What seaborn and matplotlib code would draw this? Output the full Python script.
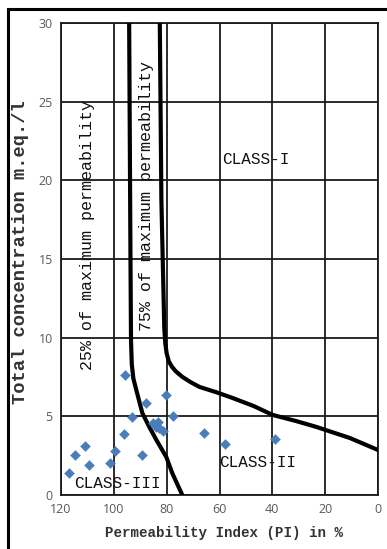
import matplotlib
matplotlib.use("Agg")
import matplotlib.pyplot as plt
import seaborn as sns
import pandas as pd
from matplotlib.patches import Rectangle

# Sample points (Permeability Index %, Total concentration meq/l)
pi_values = [95.7, 80.3, 87.9, 93.3, 77.7, 85.3, 83.1, 82.8, 84.0, 81.5,
             96.3, 66.0, 58.0, 39.1, 110.9, 99.5, 114.8, 89.5, 109.4, 101.4, 117.0]
conc_values = [7.63, 6.36, 5.87, 4.94, 5.02, 4.56, 4.66, 4.24, 4.34, 4.09,
               3.86, 3.92, 3.24, 3.58, 3.12, 2.80, 2.52, 2.52, 1.91, 2.06, 1.38]

# 25% of maximum permeability boundary
curve25_pi = [94.2, 93.7, 93.5, 93.2, 92.6, 91.5, 89.2, 86.5, 83.9, 80.1, 77.9, 74.1]
curve25_c = [30.0, 15.0, 9.85, 8.3, 7.4, 6.68, 5.2, 4.3, 3.5, 2.4, 1.4, 0.0]

# 75% of maximum permeability boundary
curve75_pi = [82.6, 82.0, 80.9, 80.5, 80.0, 79.2, 78.0, 76.5, 74.0, 71.0, 67.6, 61.0,
              55.1, 47.0, 39.9, 31.0, 23.2, 10.6, 0.0]
curve75_c = [30.0, 18.75, 10.6, 9.6, 9.0, 8.5, 8.15, 7.85, 7.5, 7.18, 6.87, 6.52,
             6.17, 5.65, 5.09, 4.7, 4.32, 3.62, 2.86]

x_ticks = [120, 100, 80, 60, 40, 20, 0]
y_ticks = [0, 5, 10, 15, 20, 25, 30]

sns.set_theme(style="white")
plt.rcParams['font.family'] = ['DejaVu Sans']

fig = plt.figure(figsize=(3.87, 5.49), dpi=100)
ax = fig.add_axes([61/387, 1-495/549, (378-61)/387, (495-23)/549])

pts = pd.DataFrame({"PI": pi_values, "C": conc_values})
c25 = pd.DataFrame({"PI": curve25_pi, "C": curve25_c})
c75 = pd.DataFrame({"PI": curve75_pi, "C": curve75_c})

for xv in x_ticks:
    ax.axvline(xv, color="#1a1a1a", lw=1.3, zorder=1)
for yv in y_ticks:
    ax.axhline(yv, color="#1a1a1a", lw=1.3, zorder=1)

sns.lineplot(data=c25, x="PI", y="C", sort=False, color="black", lw=3.0, ax=ax, zorder=3)
sns.lineplot(data=c75, x="PI", y="C", sort=False, color="black", lw=3.0, ax=ax, zorder=3)
sns.scatterplot(data=pts, x="PI", y="C", marker="D", s=26, color="#4a7ebb",
                edgecolor="#4a7ebb", linewidth=0.3, ax=ax, zorder=4)

ax.set_xlim(120, 0)
ax.set_ylim(0, 30)
ax.set_xticks(x_ticks)
ax.set_yticks(y_ticks)
ax.tick_params(length=0, labelsize=9, labelcolor="#595959", pad=6)
for lab in ax.get_xticklabels() + ax.get_yticklabels():
    lab.set_family("Open Sans")

ax.set_xlabel("Permeability Index (PI) in %", family="Liberation Mono",
              fontweight="bold", fontsize=10.2, color="#333333")
ax.set_ylabel("Total concentration m.eq./l", family="Liberation Mono",
              fontweight="bold", fontsize=13.5, color="#333333")
ax.xaxis.set_label_coords(0.514, -0.066)
ax.yaxis.set_label_coords(-0.10, 0.515)

for s in ax.spines.values():
    s.set_color("#1a1a1a")
    s.set_linewidth(1.3)

mono = dict(family="Liberation Mono", color="#111111")
ax.text(110, 16.5, "25% of maximum permeability", rotation=90, ha="center", va="center", fontsize=12, **mono)
ax.text(87.7, 19.0, "75% of maximum permeability", rotation=90, ha="center", va="center", fontsize=12, **mono)
ax.text(46.3, 21.3, "CLASS-I", ha="center", va="center", fontsize=11.5, **mono)
ax.text(45.4, 2.05, "CLASS-II", ha="center", va="center", fontsize=11.5, **mono)
ax.text(98.6, 0.76, "CLASS-III", ha="center", va="center", fontsize=11.5, **mono)

fig.patches.append(Rectangle((8/387, -0.05), 1.1, 1 - 9/549 + 0.05, transform=fig.transFigure,
                             fill=False, edgecolor="black", lw=2.2, zorder=0))

fig.savefig("out.png", dpi=100)
